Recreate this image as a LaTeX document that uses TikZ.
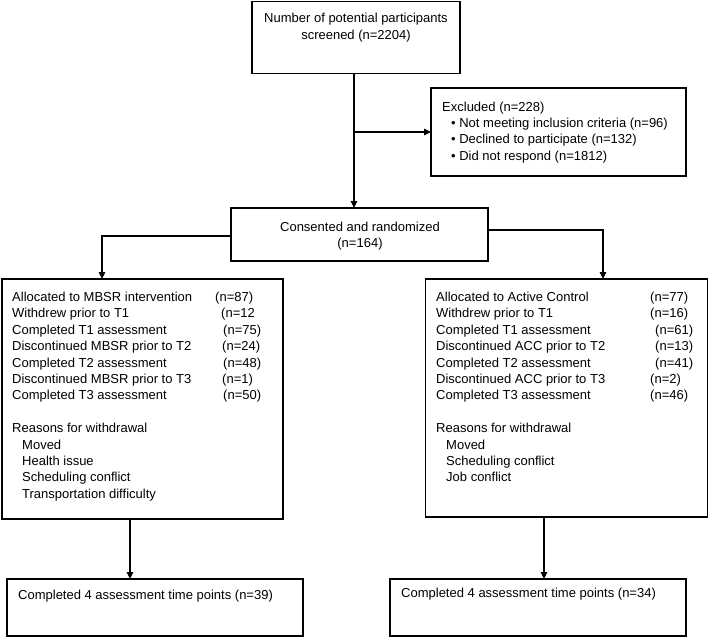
\documentclass[tikz,border=0pt]{standalone}
\usepackage{fontspec}
\setmainfont{Liberation Sans}
\usetikzlibrary{arrows.meta}
\newcommand\fsz{\fontsize{13}{16}\selectfont}
\tikzset{
  boxnode/.style={draw, line width=1.5pt, inner sep=0pt, outer sep=0pt},
  arr/.style={line width=1.4pt, -{Triangle[length=7pt,width=6.5pt]}},
  lt/.style={anchor=base west, inner sep=0pt, font=\fsz},
  ct/.style={anchor=base, inner sep=0pt, font=\fsz},
}
\begin{document}
\begin{tikzpicture}[x=1pt,y=-1pt]
\useasboundingbox (0,0) rectangle (709,638);
% boxes
\node[boxnode, minimum width=208pt, minimum height=72pt] (top) at (356,37.5) {};
\node[boxnode, minimum width=255pt, minimum height=88pt] (excl) at (558.5,132) {};
\node[boxnode, minimum width=257pt, minimum height=53pt] (cons) at (359.5,234.5) {};
\node[boxnode, minimum width=281pt, minimum height=240pt] (lbox) at (142.5,399) {};
\node[boxnode, minimum width=282pt, minimum height=238pt] (rbox) at (566.5,398) {};
\node[boxnode, minimum width=296pt, minimum height=57pt] (lbot) at (155,607.5) {};
\node[boxnode, minimum width=296pt, minimum height=57pt] (rbot) at (538,607.5) {};
% top texts
\node[ct] (t1) at (356,22.5) {Number of potential participants};
\node[ct] (t2) at (356,39.5) {screened (n=2204)};
% excluded
\node[lt] (e0) at (442,111.5) {Excluded (n=228)};
\node[lt] (e1) at (451,127.5) {•\ Not meeting inclusion criteria (n=96)};
\node[lt] (e2) at (451,143.5) {•\ Declined to participate (n=132)};
\node[lt] (e3) at (451,160) {•\ Did not respond (n=1812)};
% consented
\node[ct] (c1) at (360,231.5) {Consented and randomized};
\node[ct] (c2) at (360,247.5) {(n=164)};
% left box
\node[lt] (la1) at (12,301.5) {Allocated to MBSR intervention};
\node[lt] (la2) at (12,317.9) {Withdrew prior to T1};
\node[lt] (la3) at (12,334.3) {Completed T1 assessment};
\node[lt] (la4) at (12,350.7) {Discontinued MBSR prior to T2};
\node[lt] (la5) at (12,367.1) {Completed T2 assessment};
\node[lt] (la6) at (12,383.5) {Discontinued MBSR prior to T3};
\node[lt] (la7) at (12,399.9) {Completed T3 assessment};
\node[lt] (ln1) at (215,301.5) {(n=87)};
\node[lt] (ln2) at (221,317.9) {(n=12};
\node[lt] (ln3) at (223,334.3) {(n=75)};
\node[lt] (ln4) at (222,350.7) {(n=24)};
\node[lt] (ln5) at (223,367.1) {(n=48)};
\node[lt] (ln6) at (222,383.5) {(n=1)};
\node[lt] (ln7) at (223,399.9) {(n=50)};
\node[lt] (lr0) at (12,432.7) {Reasons for withdrawal};
\node[lt] (lr1) at (22,449.1) {Moved};
\node[lt] (lr2) at (22,465.5) {Health issue};
\node[lt] (lr3) at (22,481.9) {Scheduling conflict};
\node[lt] (lr4) at (22,498.3) {Transportation difficulty};
% right box
\node[lt] (ra1) at (436,301.5) {Allocated to Active Control};
\node[lt] (ra2) at (436,317.9) {Withdrew prior to T1};
\node[lt] (ra3) at (436,334.3) {Completed T1 assessment};
\node[lt] (ra4) at (436,350.7) {Discontinued ACC prior to T2};
\node[lt] (ra5) at (436,367.1) {Completed T2 assessment};
\node[lt] (ra6) at (436,383.5) {Discontinued ACC prior to T3};
\node[lt] (ra7) at (436,399.9) {Completed T3 assessment};
\node[lt] (rn1) at (650,301.5) {(n=77)};
\node[lt] (rn2) at (650,317.9) {(n=16)};
\node[lt] (rn3) at (655,334.3) {(n=61)};
\node[lt] (rn4) at (655,350.7) {(n=13)};
\node[lt] (rn5) at (655,367.1) {(n=41)};
\node[lt] (rn6) at (650,383.5) {(n=2)};
\node[lt] (rn7) at (650,399.9) {(n=46)};
\node[lt] (rr0) at (436,432.7) {Reasons for withdrawal};
\node[lt] (rr1) at (446,449.1) {Moved};
\node[lt] (rr2) at (446,465.5) {Scheduling conflict};
\node[lt] (rr3) at (446,481.9) {Job conflict};
% bottom texts
\node[lt] (b1) at (18,599.5) {Completed 4 assessment time points (n=39)};
\node[lt] (b2) at (401,597) {Completed 4 assessment time points (n=34)};
% connector coordinates
\coordinate (sx) at (354,0);
\coordinate (lx) at (102,236);
\coordinate (rx) at (603,230);
\coordinate (lbx) at (130,0);
\coordinate (rbx) at (544,0);
% connectors
\draw[arr] (top.south -| sx) -- (cons.north -| sx);
\draw[arr] (sx |- excl.west) -- (excl.west);
\draw[arr] (cons.west |- lx) -| (lbox.north -| lx);
\draw[arr] (cons.east |- rx) -| (rbox.north -| rx);
\draw[arr] (lbox.south -| lbx) -- (lbot.north -| lbx);
\draw[arr] (rbox.south -| rbx) -- (rbot.north -| rbx);
\end{tikzpicture}
\end{document}
